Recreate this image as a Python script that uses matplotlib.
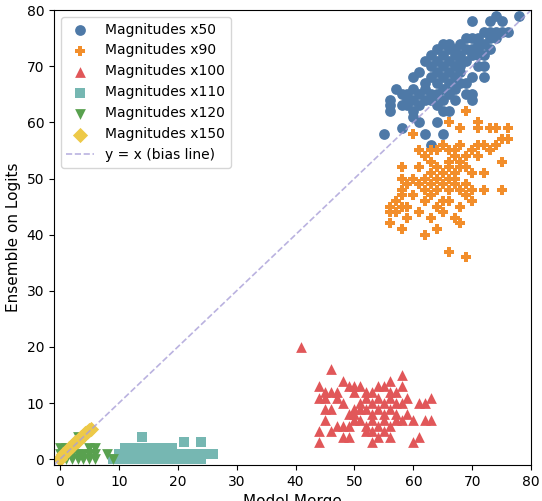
import matplotlib.pyplot as plt

# Magnitudes x50
x50_x = [55, 56, 56, 57, 58, 58, 59, 59, 60, 60, 60, 60, 61, 61, 61, 61, 62, 62, 62, 62,
         62, 63, 63, 63, 63, 63, 63, 64, 64, 64, 64, 64, 64, 64, 65, 65, 65, 65, 65, 65,
         65, 65, 66, 66, 66, 66, 66, 66, 66, 67, 67, 67, 67, 67, 67, 68, 68, 68, 68, 68,
         69, 69, 69, 69, 69, 70, 70, 70, 70, 70, 70, 70, 71, 71, 71, 71, 72, 72, 72, 72,
         72, 73, 73, 73, 73, 74, 74, 74, 75, 75, 76, 78, 60, 59, 68, 71, 56, 58]
x50_y = [58, 62, 64, 66, 59, 65, 63, 64, 61, 62, 64, 66, 63, 65, 69, 60, 58, 64, 66, 67,
         71, 56, 64, 65, 68, 70, 72, 60, 63, 65, 67, 69, 71, 73, 58, 62, 64, 66, 68, 70,
         72, 74, 62, 65, 67, 69, 71, 73, 74, 64, 66, 68, 70, 72, 73, 67, 69, 70, 72, 74,
         65, 67, 71, 73, 75, 64, 65, 68, 72, 73, 75, 78, 70, 72, 74, 75, 68, 70, 72, 74,
         76, 73, 75, 76, 78, 75, 79, 76, 76, 78, 76, 79, 68, 65, 71, 73, 63, 63]

# Magnitudes x90
x90_x = [69, 60, 66, 68, 71, 71, 73, 74, 76, 75, 76, 74, 73, 72, 71, 75, 72, 70, 69, 68,
         67, 66, 65, 64, 63, 62, 61, 61, 60, 59, 58, 58, 58, 57, 56, 56, 56, 58, 58, 59,
         60, 61, 62, 62, 63, 63, 64, 64, 65, 65, 66, 66, 67, 67, 68, 68, 68, 69, 69, 70,
         70, 72, 65, 69, 75, 63, 64, 66, 67, 68, 70, 69, 61, 59, 62, 64, 66, 67, 65, 71,
         63, 62, 64, 66, 68, 67, 65, 63, 60, 58, 57, 66, 67, 69]
x90_y = [62, 58, 60, 59, 60, 59, 59, 59, 59, 57, 57, 56, 55, 56, 56, 53, 51, 51, 52, 53,
         54, 55, 56, 55, 53, 50, 52, 55, 50, 49, 52, 50, 48, 46, 45, 44, 42, 41, 47, 45,
         47, 44, 40, 46, 43, 47, 41, 48, 44, 49, 50, 46, 43, 51, 42, 48, 45, 47, 49, 48,
         46, 48, 51, 54, 48, 51, 52, 53, 55, 56, 55, 54, 49, 43, 48, 45, 48, 49, 51, 54,
         55, 54, 50, 52, 52, 50, 46, 49, 50, 45, 44, 37, 43, 36]

# Magnitudes x100
x100_x = [41, 46, 58, 44, 44, 48, 56, 45, 46, 47, 49, 50, 51, 53, 55, 57, 63, 62, 61, 62,
          63, 61, 60, 44, 44, 45, 45, 48, 49, 50, 51, 52, 53, 54, 55, 56, 57, 49, 50, 51,
          52, 53, 54, 55, 56, 57, 58, 48, 49, 50, 51, 52, 53, 54, 55, 56, 57, 46, 47, 48,
          52, 53, 54, 55, 56, 59, 46, 47, 50, 52, 54, 56, 58, 59, 45, 58, 60, 53]
x100_y = [20, 16, 15, 13, 11, 14, 14, 12, 12, 12, 13, 13, 13, 12, 13, 12, 11, 10, 10, 7,
          7, 4, 3, 3, 5, 9, 7, 4, 4, 9, 10, 11, 10, 11, 10, 11, 10, 8, 8, 9,
          9, 8, 9, 8, 9, 8, 10, 6, 6, 7, 7, 6, 7, 6, 7, 6, 7, 9, 11, 10,
          5, 5, 4, 5, 4, 8, 5, 6, 12, 12, 13, 12, 13, 11, 11, 7, 7, 3]

# Magnitudes x110
x110_x = [14, 21, 24, 11, 12, 13, 14, 15, 16, 17, 18, 19, 10, 11, 12, 13, 14, 15, 16, 17,
          18, 19, 20, 21, 22, 23, 24, 25, 26, 9, 10, 11, 12, 13, 14, 15, 16, 17, 18, 19,
          20, 21, 22, 23, 24]
x110_y = [4, 3, 3, 2, 2, 2, 2, 2, 2, 2, 2, 2, 1, 1, 1, 1, 1, 1, 1, 1,
          1, 1, 1, 1, 1, 1, 1, 1, 1, 0, 0, 0, 0, 0, 0, 0, 0, 0, 0, 0,
          0, 0, 0, 0, 0]

# Magnitudes x120
x120_x = [3, 4, 0, 1, 5, 6, 0, 1, 2, 3, 4, 5, 6, 1, 2, 3, 4, 5, 6, 8, 9]
x120_y = [4, 4, 2, 2, 2, 2, 1, 1, 1, 1, 1, 1, 1, 0, 0, 0, 0, 0, 0, 1, 0]

# Magnitudes x150
x150_x = [0, 0.3, 0.6, 1, 1.3, 1.6, 2, 2.3, 2.6, 3, 3.3, 3.6, 4, 4.3, 4.6, 5, 5.3]
x150_y = [0, 0.6, 0.9, 1.3, 1.6, 2.0, 2.3, 2.6, 3.0, 3.3, 3.6, 3.9, 4.2, 4.6, 4.9, 5.2, 5.4]

series = [
    (x50_x, x50_y, 'Magnitudes x50', 'o', '#4e79a7'),
    (x90_x, x90_y, 'Magnitudes x90', 'P', '#f28e2b'),
    (x100_x, x100_y, 'Magnitudes x100', '^', '#e15759'),
    (x110_x, x110_y, 'Magnitudes x110', 's', '#76b7b2'),
    (x120_x, x120_y, 'Magnitudes x120', 'v', '#59a14f'),
    (x150_x, x150_y, 'Magnitudes x150', 'D', '#edc948'),
]

fig, ax = plt.subplots(figsize=(5.42, 5.01), dpi=100)
fig.subplots_adjust(left=0.0996, right=0.98, top=0.98, bottom=0.072)

for xs, ys, label, marker, color in series:
    ax.scatter(xs, ys, s=60, marker=marker, color=color, linewidths=0, label=label)

ax.plot([-1, 80], [-1, 80], linestyle='--', color='#a99fd8', alpha=0.8, linewidth=1.2,
        label='y = x (bias line)')

ax.set_xlim(-1, 80)
ax.set_ylim(-1, 80)
ax.set_xlabel('Model Merge', fontsize=11)
ax.set_ylabel('Ensemble on Logits', fontsize=11)
ax.legend(loc='upper left', fontsize=10)

plt.savefig('out.png')
